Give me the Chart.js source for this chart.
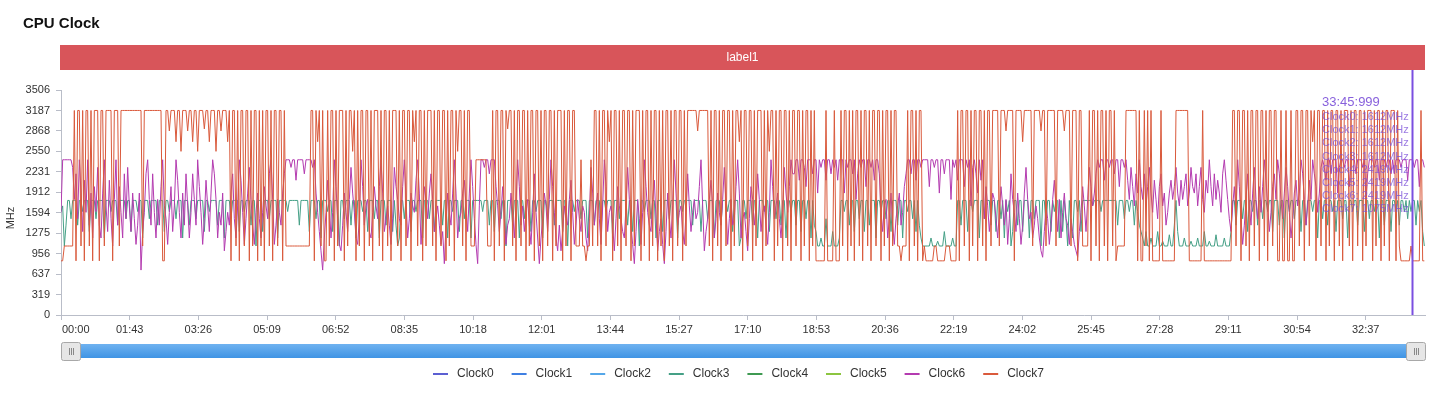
<!DOCTYPE html>
<html>
<head>
<meta charset="utf-8">
<title>CPU Clock</title>
<script src="https://cdn.jsdelivr.net/npm/chart.js@4.4.1/dist/chart.umd.min.js"></script>
<style>
  html, body { margin: 0; padding: 0; background: #fff; }
  #wrap { width: 1440px; height: 394px; }
</style>
</head>
<body>
<div id="wrap"><canvas id="cpuChart" width="1440" height="394"></canvas></div>
<script>
const FONT = "'Liberation Sans', 'Helvetica Neue', Arial, sans-serif"

const seriesNames = ['Clock0', 'Clock1', 'Clock2', 'Clock3', 'Clock4', 'Clock5', 'Clock6', 'Clock7']
const seriesColors = ['#5b5fd2', '#3f7fe2', '#55a7e9', '#45a086', '#3f9a52', '#8cc540', '#b43bb0', '#da5a3c']
// Clock0-2 run exactly under Clock3 and Clock4-5 under Clock6, so they never show
const seriesCovered = [true, true, true, false, true, true, false, false]

const yTickValues = [0, 319, 637, 956, 1275, 1594, 1912, 2231, 2550, 2868, 3187, 3506]
const xTickLabels = ['00:00', '01:43', '03:26', '05:09', '06:52', '08:35', '10:18', '12:01', '13:44', '15:27',
  '17:10', '18:53', '20:36', '22:19', '24:02', '25:45', '27:28', '29:11', '30:54', '32:37']
const xMaxSeconds = 2046
const sampleStep = 2.5 // seconds between samples, one row = 100 s

// little cluster (Clock0..Clock3), MHz
const littleCluster = [
  1612, 1700, 1075, 1400, 1785, 1785, 1500, 1785, 1785, 1785, 1400, 1785, 1785, 1612, 1785, 1785, 1785, 1300, 1785, 1785, 1785, 1500, 1785, 1785, 1785, 1785, 1200, 1785, 1785, 1785, 1612, 1785, 1785, 1785, 1400, 1785, 1785, 1785, 1785, 1500,
  1785, 1785, 1300, 1785, 1785, 1785, 1612, 1785, 1785, 1200, 1785, 1785, 1785, 1500, 1785, 1785, 1785, 1785, 1400, 1785, 1785, 1785, 1300, 1785, 1785, 1612, 1785, 1785, 1785, 1500, 1785, 1785, 1785, 1200, 1785, 1785, 1785, 1400, 1785, 1785,
  1785, 1500, 1785, 1785, 1785, 1785, 1300, 1785, 1785, 1612, 1785, 1785, 1785, 1785, 1400, 1785, 1785, 1785, 1200, 1785, 1785, 1785, 1500, 1785, 1785, 1785, 1785, 1300, 1785, 1785, 1612, 1785, 1785, 1785, 1400, 1785, 1785, 1075, 1785, 1785,
  1785, 1300, 1785, 1785, 1785, 1500, 1785, 1785, 1785, 1785, 1200, 1785, 1785, 1785, 1785, 1785, 1612, 1785, 1785, 1785, 1785, 1785, 1785, 1400, 1785, 1785, 1785, 1785, 1785, 1300, 1785, 1785, 1785, 1500, 1785, 1785, 1200, 1785, 1785, 1785,
  1612, 1785, 1785, 1300, 1785, 1785, 1785, 1075, 1785, 1785, 1500, 1785, 1785, 1785, 1400, 1785, 1785, 1200, 1785, 1785, 1785, 1612, 1785, 1785, 1300, 1785, 1785, 1785, 1500, 1785, 1785, 1200, 1785, 1785, 1785, 1400, 1785, 1785, 1785, 1300,
  1785, 1400, 1075, 1200, 1785, 1785, 1500, 1785, 1785, 1785, 1300, 1785, 1785, 1612, 1785, 1785, 1785, 1200, 1785, 1785, 1785, 1500, 1785, 1785, 1300, 1785, 1785, 1785, 1785, 1400, 1785, 1785, 1200, 1785, 1785, 1612, 1785, 1785, 1785, 1300,
  1785, 1785, 1500, 1785, 1785, 1785, 1200, 1785, 1785, 1785, 1785, 1785, 1785, 1612, 1785, 1785, 1785, 1400, 1785, 1785, 1300, 1785, 1785, 1785, 1500, 1785, 1785, 1075, 1785, 1785, 1785, 1400, 1785, 1785, 1785, 1200, 1785, 1785, 1500, 1785,
  1785, 1785, 1300, 1785, 1785, 1612, 1785, 1785, 1785, 1200, 1785, 1785, 1500, 1785, 1785, 1785, 1400, 1785, 1785, 1785, 1785, 1300, 1785, 1785, 1075, 1785, 1785, 1785, 1612, 1785, 1785, 1785, 1500, 1785, 1785, 1785, 1200, 1785, 1785, 1785,
  1400, 1785, 1785, 1785, 1300, 1785, 1785, 1612, 1785, 1785, 1785, 1200, 1785, 1785, 1785, 1500, 1785, 1785, 1785, 1785, 1400, 1785, 1785, 1300, 1785, 1785, 1785, 1075, 1785, 1785, 1612, 1785, 1785, 1785, 1500, 1785, 1785, 1200, 1785, 1785,
  1785, 1300, 1785, 1785, 1785, 1500, 1785, 1785, 1785, 1785, 1200, 1785, 1785, 1612, 1785, 1785, 1785, 1785, 1785, 1400, 1785, 1785, 1785, 1785, 1300, 1785, 1785, 1785, 1500, 1785, 1785, 1785, 1200, 1785, 1785, 1785, 1400, 1785, 1785, 1785,
  1612, 1785, 1785, 1300, 1785, 1785, 1785, 1075, 1200, 1785, 1785, 1500, 1785, 1785, 1785, 1400, 1785, 1785, 1200, 1785, 1785, 1785, 1612, 1785, 1785, 1300, 1785, 1785, 1785, 1500, 1785, 1785, 1400, 1785, 1785, 1200, 1785, 1785, 1612, 1785,
  1785, 1400, 1785, 1785, 1300, 1785, 1785, 1500, 1785, 1785, 1200, 1785, 1400, 1300, 1075, 1075, 1200, 1075, 1075, 1500, 1075, 1075, 1075, 1300, 1075, 1075, 1075, 1200, 1785, 1785, 1612, 1785, 1785, 1400, 1785, 1785, 1300, 1785, 1785, 1500,
  1785, 1785, 1300, 1785, 1785, 1400, 1785, 1785, 1785, 1200, 1785, 1785, 1612, 1785, 1785, 1500, 1785, 1785, 1300, 1785, 1785, 1785, 1400, 1785, 1785, 1200, 1785, 1785, 1612, 1785, 1785, 1500, 1785, 1300, 1785, 1400, 1200, 1075, 1075, 1075,
  1075, 1075, 1200, 1075, 1075, 1075, 1150, 1075, 1075, 1075, 1300, 1075, 1075, 1075, 1075, 1200, 1075, 1075, 1785, 1785, 1400, 1785, 1785, 1785, 1300, 1785, 1785, 1612, 1785, 1785, 1785, 1200, 1785, 1785, 1500, 1785, 1785, 1785, 1400, 1785,
  1785, 1300, 1785, 1785, 1500, 1785, 1200, 1785, 1612, 1785, 1075, 1300, 1785, 1785, 1400, 1785, 1785, 1300, 1785, 1785, 1785, 1200, 1785, 1785, 1500, 1785, 1785, 1785, 1075, 1785, 1785, 1400, 1785, 1785, 1300, 1785, 1612, 1785, 1785, 1200,
  1785, 1300, 1785, 1500, 1075, 1785, 1400, 1200, 1785, 1785, 1612, 1785, 1300, 1785, 1785, 1785, 1785, 1785, 1785, 1700, 1785, 1785, 1785, 1785, 1612, 1785, 1785, 1785, 1785, 1785, 1785, 1785, 1785, 1785, 1400, 1785, 1785, 1785, 1500, 1785,
  1785, 1612, 1785, 1785, 1400, 1785, 1612, 1400, 1300, 1200, 1075, 1300, 1075, 1075, 1200, 1075, 1075, 1075, 1300, 1075, 1075, 1150, 1075, 1075, 1075, 1250, 1075, 1075, 1400, 1785, 1300, 1075, 1075, 1075, 1200, 1075, 1075, 1075, 1150, 1075,
  1075, 1075, 1200, 1075, 1075, 1075, 1300, 1075, 1075, 1150, 1075, 1075, 1075, 1250, 1075, 1075, 1075, 1075, 1200, 1075, 1075, 1075, 1300, 1785, 1785, 1400, 1785, 1785, 1785, 1500, 1785, 1785, 1300, 1785, 1785, 1612, 1785, 1785, 1400, 1785,
  1785, 1500, 1785, 1785, 1612, 1785, 1785, 1300, 1785, 1785, 1785, 1400, 1785, 1785, 1200, 1785, 1785, 1612, 1785, 1785, 1500, 1785, 1785, 1785, 1300, 1785, 1785, 1400, 1785, 1785, 1785, 1612, 1785, 1785, 1200, 1785, 1785, 1500, 1785, 1785,
  1400, 1785, 1785, 1612, 1785, 1300, 1785, 1785, 1785, 1500, 1785, 1785, 1200, 1785, 1785, 1612, 1785, 1785, 1400, 1785, 1785, 1785, 1300, 1785, 1785, 1500, 1785, 1785, 1612, 1785, 1785, 1200, 1785, 1785, 1400, 1785, 1785, 1785, 1300, 1785,
  1785, 1612, 1785, 1400, 1785, 1785, 1612, 1785, 1500, 1785, 1612, 1785, 1785, 1400, 1785, 1612, 1785, 1300, 1075
]

// big cluster (Clock4..Clock6), MHz
const bigCluster = [
  1600, 2419, 2419, 2419, 2419, 2419, 2419, 2300, 1800, 2200, 1500, 2419, 1900, 1300, 2100, 1600, 2419, 1400, 1900, 1200, 2000, 1612, 2300, 1400, 1200, 1900, 2419, 1700, 1300, 2100, 1500, 1075, 1800, 2419, 1400, 2000, 1600, 1200, 2200, 1500,
  2300, 1700, 1300, 1900, 1500, 1100, 1400, 1900, 700, 1300, 1600, 2200, 2419, 1800, 1400, 2200, 1600, 1200, 1800, 1400, 2000, 2419, 1700, 1500, 1100, 1600, 2000, 1300, 1700, 2419, 2100, 1600, 1200, 1900, 1400, 2200, 1700, 1200, 1600, 2200,
  1800, 1400, 2419, 2000, 1600, 1100, 1500, 2100, 1700, 1300, 1900, 2419, 2200, 1800, 1200, 1600, 1400, 1900, 1000, 1300, 1600, 1400, 1900, 2200, 1500, 1200, 1700, 2419, 2100, 1600, 1100, 1500, 1900, 2300, 1800, 1400, 1100, 1600, 1900, 1500,
  1200, 1600, 2000, 1700, 1500, 2200, 2419, 1800, 1100, 1400, 1800, 1600, 1400, 1900, 2200, 2419, 2419, 2419, 2300, 2419, 2419, 2100, 2419, 2419, 2419, 2419, 2200, 2419, 2419, 2419, 2419, 2300, 2419, 1900, 1600, 1300, 1000, 700, 1200, 1600,
  2100, 1700, 1200, 1600, 2419, 2000, 1500, 1100, 1000, 1400, 1900, 1600, 1300, 1800, 2300, 1900, 1600, 1200, 1100, 1500, 2419, 2000, 1400, 1700, 1800, 1300, 1200, 1600, 2000, 1700, 1500, 2000, 2419, 1900, 1300, 1500, 1700, 1400, 1100, 1500,
  2300, 2000, 1800, 1500, 1400, 2000, 2419, 1800, 1200, 1500, 1900, 1700, 1600, 2100, 2419, 1900, 1100, 1500, 2000, 1800, 1500, 1900, 2200, 1800, 1300, 1500, 1700, 1400, 1100, 1300, 800, 1400, 1900, 1600, 1400, 1900, 2419, 1900, 1200, 1500,
  1600, 1900, 2100, 1700, 1300, 1900, 2419, 2000, 1500, 1100, 800, 1700, 2419, 2419, 2300, 2419, 2419, 2200, 2419, 2419, 2419, 2000, 1700, 1300, 1600, 2000, 1500, 1100, 1400, 1500, 1900, 1600, 1200, 1700, 2419, 2000, 1400, 1700, 1300, 1600,
  1800, 1400, 1100, 1600, 2200, 1600, 1200, 800, 1200, 1500, 1900, 1700, 1300, 1800, 2419, 2000, 1600, 1200, 1000, 1400, 1000, 1300, 1700, 1500, 1400, 1800, 2100, 1600, 1100, 1400, 1800, 1500, 1300, 1700, 1600, 1200, 1000, 1500, 2300, 1900,
  1400, 1700, 1900, 1500, 1100, 1700, 2419, 2000, 1300, 1600, 1700, 1400, 1000, 1500, 2000, 1700, 1500, 1300, 1200, 1700, 2300, 1800, 1400, 1100, 800, 1300, 1800, 1500, 1100, 1600, 2419, 2000, 1600, 1400, 1300, 1800, 2100, 1500, 1000, 1300,
  1500, 1100, 800, 1300, 1900, 1500, 1200, 1700, 2419, 1900, 1400, 1600, 1700, 1300, 1100, 1600, 2200, 1700, 1300, 1600, 1800, 1500, 1600, 2000, 2419, 1700, 1000, 1300, 1500, 1800, 2100, 1700, 1200, 1500, 1900, 1600, 1400, 1800, 2300, 1700,
  1100, 1500, 1800, 1400, 1500, 2000, 2419, 1900, 1200, 1500, 1600, 1300, 1000, 1500, 2000, 1800, 1400, 1700, 2200, 1800, 1300, 1600, 1700, 1400, 1100, 1600, 2419, 2000, 1500, 1700, 1900, 1500, 1200, 1600, 2300, 1900, 1600, 2000, 2419, 2200,
  2200, 2419, 2419, 2100, 2419, 2419, 2300, 2000, 2419, 2419, 2419, 2200, 2419, 2419, 1900, 2419, 2300, 2419, 2419, 2100, 2419, 2419, 2200, 2419, 2300, 2419, 2100, 2419, 2419, 2419, 1900, 2419, 2300, 2419, 2419, 2200, 2419, 1800, 2200, 2419,
  2300, 2419, 2419, 2000, 2419, 2419, 2300, 2419, 2100, 2419, 2419, 2200, 1600, 1300, 1700, 1800, 1200, 1500, 1900, 1400, 1100, 1500, 1700, 1900, 1400, 1600, 2000, 2200, 2419, 2419, 2200, 2419, 2419, 2100, 2419, 2419, 2300, 2419, 2419, 2419,
  2419, 2000, 2419, 2419, 2300, 2419, 2419, 1900, 2419, 2419, 2200, 2419, 2419, 2419, 1800, 2419, 2300, 2419, 2100, 2419, 2419, 2419, 2000, 2419, 2300, 2419, 1700, 2300, 2419, 2200, 1900, 2419, 2100, 2419, 1500, 2000, 1700, 1300, 1600, 1900,
  1800, 1500, 1200, 1600, 2000, 1700, 1400, 1800, 1100, 1500, 2200, 1800, 1600, 1300, 1900, 1500, 1100, 1400, 1900, 2300, 1800, 1500, 1600, 1200, 1400, 1700, 1500, 1200, 1000, 900, 1300, 1700, 1500, 1100, 1400, 1800, 2100, 1700, 1300, 1800,
  1200, 1600, 1900, 1500, 1400, 1100, 1500, 1300, 1100, 1000, 900, 1300, 1600, 2000, 1700, 1300, 1800, 2300, 2000, 1700, 1900, 2200, 2419, 2300, 2419, 2419, 2100, 2419, 2419, 2300, 2419, 2419, 2200, 2419, 2419, 2000, 2419, 2419, 2300, 2419,
  2100, 1800, 2300, 2000, 1700, 2200, 1900, 2419, 2000, 1800, 2200, 1700, 2000, 2300, 1900, 1600, 2100, 1800, 1500, 2000, 2200, 1700, 1900, 1400, 1600, 1900, 2100, 1800, 2000, 2300, 1900, 1700, 2100, 1800, 2000, 2200, 1700, 1900, 2300, 2000,
  1900, 2200, 1700, 2000, 2300, 1800, 1600, 2100, 1900, 2419, 2000, 1700, 2200, 1800, 2100, 1900, 1600, 2200, 2419, 2100, 1800, 1500, 1300, 1700, 2000, 1600, 2419, 2000, 1500, 1100, 1400, 1800, 2200, 1700, 1400, 1900, 2300, 1800, 1500, 2000,
  1600, 2000, 2419, 2100, 1700, 1300, 1600, 2000, 2200, 1800, 2419, 2200, 1800, 1500, 1900, 2300, 2000, 1600, 1200, 1500, 1900, 2100, 1700, 1900, 2419, 2200, 1800, 1400, 1700, 2100, 1800, 2419, 2200, 2000, 1600, 1900, 2300, 2419, 2300, 2100,
  2419, 2419, 2200, 2419, 2419, 2419, 1900, 2300, 2419, 2419, 2300, 2419, 2419, 2000, 2419, 2419, 2419, 2200, 2419, 2419, 2419, 2300, 2419, 1800, 2200, 2419, 2419, 2419, 2300, 2419, 2419, 2100, 2419, 2419, 2419, 2300, 2419, 2419, 2200, 2419,
  2200, 2419, 2419, 2419, 2300, 2419, 2419, 2419, 2100, 2419, 2419, 2419, 2300, 2419, 2419, 2000, 2419, 2419, 2300
]

// prime core (Clock7), MHz
const primeCore = [
  844, 844, 1075, 1075, 1075, 1075, 1075, 1075, 3187, 844, 3187, 3187, 1075, 3187, 844, 3187, 3187, 1075, 3187, 844, 3187, 3187, 3187, 844, 3187, 3187, 1075, 3187, 3187, 3187, 3187, 844, 3187, 3187, 3187, 1075, 3187, 3187, 3187, 3187,
  3187, 3187, 3187, 3187, 3187, 3187, 3187, 3187, 3187, 1075, 3187, 3187, 3187, 3187, 3187, 3187, 3187, 3187, 3187, 3187, 3187, 844, 844, 3187, 3187, 2868, 3187, 3187, 3187, 2700, 3187, 3187, 2550, 3187, 3187, 3187, 2868, 3187, 3187, 2700,
  3187, 3187, 2550, 3187, 3187, 3187, 2900, 3187, 3187, 2700, 3187, 3187, 3187, 2550, 3187, 3187, 2868, 3187, 3187, 3187, 2700, 3187, 844, 3187, 3187, 1075, 3187, 844, 3187, 3187, 1075, 3187, 3187, 844, 3187, 1075, 3187, 3187, 844, 3187,
  1075, 3187, 844, 3187, 3187, 1075, 3187, 844, 3187, 3187, 1075, 3187, 3187, 844, 3187, 1075, 1075, 1075, 1075, 1075, 1075, 1075, 1075, 1075, 1075, 1075, 1075, 1075, 1075, 1075, 3187, 3187, 844, 3187, 2700, 3187, 1075, 3187, 844, 844,
  3187, 1075, 3187, 3187, 844, 3187, 1075, 3187, 3187, 3187, 844, 3187, 1075, 3187, 3187, 2550, 3187, 844, 3187, 1075, 3187, 3187, 844, 3187, 3187, 1075, 3187, 844, 3187, 3187, 3187, 1075, 3187, 844, 3187, 3187, 1075, 3187, 844, 3187,
  3187, 3187, 1075, 3187, 844, 3187, 3187, 1075, 3187, 3187, 844, 3187, 2700, 3187, 1075, 3187, 3187, 844, 3187, 1075, 3187, 3187, 3187, 1075, 3187, 844, 3187, 3187, 1075, 3187, 3187, 844, 3187, 1075, 3187, 3187, 844, 3187, 2550, 3187,
  3187, 1075, 3187, 844, 3187, 3187, 1075, 1075, 1075, 2419, 2419, 2419, 2419, 2419, 2419, 2419, 1075, 1075, 1075, 3187, 844, 3187, 3187, 1075, 3187, 3187, 844, 3187, 2900, 3187, 3187, 1075, 3187, 844, 3187, 3187, 1075, 3187, 3187, 844,
  3187, 1075, 3187, 3187, 844, 3187, 3187, 1075, 3187, 844, 3187, 3187, 1075, 3187, 3187, 844, 3187, 1075, 3187, 3187, 3187, 844, 3187, 1075, 3187, 3187, 844, 3187, 3187, 1075, 1075, 1075, 2419, 1075, 1075, 844, 1075, 1075, 2419, 1075,
  3187, 3187, 1075, 3187, 844, 3187, 3187, 1075, 3187, 2700, 3187, 844, 3187, 3187, 1075, 3187, 844, 3187, 3187, 1075, 3187, 3187, 844, 3187, 1075, 3187, 3187, 3187, 844, 3187, 1075, 3187, 3187, 844, 3187, 1075, 3187, 3187, 844, 3187,
  1075, 3187, 844, 3187, 3187, 1075, 3187, 844, 3187, 3187, 1075, 3187, 3187, 844, 3187, 1075, 3187, 3187, 3187, 3187, 3187, 3187, 2868, 3187, 3187, 3187, 3187, 3187, 3187, 1075, 3187, 844, 3187, 3187, 1075, 3187, 844, 3187, 3187, 1075,
  3187, 3187, 844, 3187, 1075, 3187, 3187, 2700, 3187, 844, 3187, 3187, 1075, 3187, 3187, 844, 3187, 1075, 3187, 3187, 3187, 844, 3187, 1075, 3187, 2550, 3187, 3187, 844, 3187, 1075, 3187, 3187, 844, 3187, 3187, 1075, 3187, 844, 3187,
  3187, 1075, 3187, 3187, 844, 3187, 1075, 3187, 3187, 844, 3187, 1075, 3187, 844, 844, 844, 844, 844, 844, 3187, 844, 844, 844, 844, 3187, 844, 844, 844, 3187, 1075, 3187, 3187, 844, 3187, 1075, 3187, 844, 3187, 3187, 1075,
  3187, 844, 3187, 3187, 1075, 3187, 844, 3187, 3187, 1075, 3187, 3187, 844, 3187, 1075, 3187, 3187, 844, 3187, 1075, 3187, 3187, 1075, 1075, 844, 1075, 1075, 1075, 3187, 844, 3187, 3187, 1075, 3187, 844, 3187, 3187, 844, 1075, 844,
  844, 844, 844, 844, 1075, 1075, 844, 844, 844, 844, 844, 1075, 1075, 1075, 844, 844, 844, 844, 3187, 844, 3187, 3187, 1075, 3187, 3187, 844, 3187, 1075, 3187, 3187, 844, 3187, 3187, 1075, 3187, 844, 3187, 3187, 1075, 3187,
  3187, 3187, 3187, 1075, 3187, 3187, 3187, 2868, 3187, 3187, 3187, 3187, 844, 3187, 3187, 3187, 3187, 2700, 3187, 3187, 3187, 3187, 3187, 1075, 3187, 3187, 3187, 3187, 2868, 3187, 3187, 1075, 3187, 3187, 3187, 3187, 3187, 1075, 3187, 3187,
  3187, 3187, 2868, 3187, 3187, 3187, 1075, 3187, 3187, 3187, 844, 3187, 3187, 1075, 1075, 1075, 1075, 3187, 844, 3187, 3187, 1075, 3187, 844, 3187, 3187, 1075, 3187, 844, 3187, 3187, 1075, 3187, 844, 1075, 1075, 1075, 1075, 1075, 3187,
  3187, 3187, 3187, 3187, 3187, 3187, 844, 3187, 844, 844, 3187, 1075, 3187, 844, 3187, 844, 844, 844, 844, 844, 3187, 844, 844, 844, 844, 844, 844, 844, 844, 3187, 3187, 3187, 3187, 3187, 3187, 3187, 3187, 844, 844, 844,
  844, 844, 844, 844, 844, 3187, 844, 844, 844, 844, 844, 844, 844, 844, 844, 844, 844, 844, 844, 844, 844, 844, 844, 3187, 3187, 1075, 3187, 3187, 844, 3187, 3187, 1075, 3187, 844, 3187, 3187, 1075, 3187, 3187, 844,
  3187, 3187, 1075, 3187, 844, 3187, 3187, 1075, 3187, 3187, 844, 844, 3187, 844, 844, 3187, 844, 844, 3187, 844, 844, 3187, 3187, 1075, 3187, 3187, 844, 3187, 3187, 1075, 3187, 2700, 3187, 844, 3187, 3187, 1075, 3187, 3187, 844,
  3187, 1075, 3187, 3187, 844, 3187, 3187, 1075, 3187, 844, 3187, 3187, 3187, 1075, 3187, 844, 3187, 3187, 1075, 3187, 3187, 844, 3187, 1075, 3187, 3187, 3187, 844, 3187, 1075, 3187, 3187, 844, 3187, 1075, 3187, 3187, 844, 3187, 3187,
  3187, 844, 3187, 1075, 844, 844, 844, 844, 844, 844, 1075, 844, 844, 844, 844, 844, 3187, 844, 844
]

const clusterOf = [littleCluster, littleCluster, littleCluster, littleCluster, bigCluster, bigCluster, bigCluster, primeCore]

const cursorLabel = '33:45:999'
const cursorSeconds = 2026

const toSeconds = s => {
  const [m, sec] = s.split(':').map(Number)
  return m * 60 + sec
}

function buildDatasets() {
  return seriesNames.map((name, i) => ({
    label: name,
    data: clusterOf[i].map((v, k) => ({ x: k * sampleStep, y: v })),
    borderColor: seriesColors[i],
    borderWidth: 1,
    pointRadius: 0,
    fill: false,
    tension: 0,
    hidden: seriesCovered[i],
    order: seriesNames.length - 1 - i
  }))
}

const decorations = {
  id: 'decorations',
  beforeDraw(chart) {
    const { ctx } = chart
    ctx.save()
    ctx.fillStyle = '#fff'
    ctx.fillRect(0, 0, chart.width, chart.height)
    ctx.restore()
  },
  afterDraw(chart) {
    const { ctx, chartArea } = chart
    const xs = chart.scales.x
    ctx.save()

    // title
    ctx.fillStyle = '#111'
    ctx.font = 'bold 15px ' + FONT
    ctx.textAlign = 'left'
    ctx.textBaseline = 'alphabetic'
    ctx.fillText('CPU Clock', 23, 28)

    // label band
    ctx.fillStyle = '#d8555a'
    ctx.fillRect(60, 45, chartArea.right - 60, 25)
    ctx.fillStyle = '#fff'
    ctx.font = '12px ' + FONT
    ctx.textAlign = 'center'
    ctx.textBaseline = 'middle'
    ctx.fillText('label1', (60 + chartArea.right) / 2, 58)

    // y axis name
    ctx.save()
    ctx.translate(11, 218)
    ctx.rotate(-Math.PI / 2)
    ctx.fillStyle = '#333'
    ctx.font = '11px ' + FONT
    ctx.fillText('MHz', 0, 0)
    ctx.restore()

    // x tick labels
    ctx.fillStyle = '#333'
    ctx.font = '11px ' + FONT
    ctx.textBaseline = 'top'
    xTickLabels.forEach((lab, i) => {
      const px = xs.getPixelForValue(toSeconds(lab))
      ctx.textAlign = i === 0 ? 'left' : 'center'
      ctx.fillText(lab, i === 0 ? px + 1 : px, 324)
    })

    // data zoom slider
    const sx0 = chartArea.left, sx1 = chartArea.right
    const grad = ctx.createLinearGradient(0, 344, 0, 358)
    grad.addColorStop(0, '#6fb2f0')
    grad.addColorStop(1, '#3f94e4')
    ctx.fillStyle = grad
    ctx.fillRect(sx0, 344, sx1 - sx0, 14)
    ;[sx0, sx1 - 19].forEach(hx => {
      ctx.fillStyle = '#e6e6e6'
      ctx.strokeStyle = '#a8a8a8'
      ctx.lineWidth = 1
      ctx.beginPath()
      ctx.roundRect(hx + 0.5, 342.5, 19, 18, 2)
      ctx.fill()
      ctx.stroke()
      ctx.strokeStyle = '#888'
      for (let k = -2; k <= 2; k += 2) {
        ctx.beginPath()
        ctx.moveTo(hx + 10 + k + 0.5, 348)
        ctx.lineTo(hx + 10 + k + 0.5, 355)
        ctx.stroke()
      }
    })

    // legend
    ctx.font = '12px ' + FONT
    ctx.textAlign = 'left'
    ctx.textBaseline = 'middle'
    seriesNames.forEach((name, i) => {
      const lx = 433 + i * 78.6
      ctx.strokeStyle = seriesColors[i]
      ctx.lineWidth = 2
      ctx.beginPath()
      ctx.moveTo(lx, 374)
      ctx.lineTo(lx + 15, 374)
      ctx.stroke()
      ctx.fillStyle = '#333'
      ctx.fillText(name, lx + 24, 374)
    })

    // cursor line + tooltip
    const cx = Math.round(xs.getPixelForValue(cursorSeconds)) + 0.5
    ctx.strokeStyle = '#7a4fe0'
    ctx.lineWidth = 2
    ctx.beginPath()
    ctx.moveTo(cx, 70)
    ctx.lineTo(cx, chartArea.bottom)
    ctx.stroke()

    const idx = Math.floor(cursorSeconds / sampleStep)
    ctx.fillStyle = 'rgba(122, 79, 216, 0.9)'
    ctx.textAlign = 'left'
    ctx.font = '13px ' + FONT
    ctx.fillText(cursorLabel, 1322, 102)
    ctx.font = '11px ' + FONT
    ctx.fillStyle = 'rgba(122, 79, 216, 0.75)'
    seriesNames.forEach((name, i) => {
      ctx.fillText(name + ': ' + clusterOf[i][idx] + 'MHz', 1322, 117 + i * 13.2)
    })

    ctx.restore()
  }
}

const ctx = document.getElementById('cpuChart').getContext('2d')
new Chart(ctx, {
  type: 'line',
  data: { datasets: buildDatasets() },
  options: {
    responsive: false,
    animation: false,
    devicePixelRatio: 1,
    parsing: false,
    normalized: true,
    events: [],
    layout: { padding: { top: 90, right: 15, bottom: 0, left: 0 } },
    plugins: { legend: { display: false }, tooltip: { enabled: false }, title: { display: false } },
    scales: {
      x: {
        type: 'linear',
        min: 0,
        max: xMaxSeconds,
        afterBuildTicks: scale => { scale.ticks = xTickLabels.map(l => ({ value: toSeconds(l) })) },
        afterFit: scale => { scale.height = 79 },
        ticks: { display: false },
        grid: { display: true, drawOnChartArea: false, drawTicks: true, tickLength: 5, color: '#b9bdc8' },
        border: { display: true, color: '#b9bdc8' }
      },
      y: {
        min: 0,
        max: 3506,
        afterBuildTicks: scale => { scale.ticks = yTickValues.map(v => ({ value: v })) },
        afterFit: scale => { scale.width = 61 },
        ticks: { color: '#333', padding: 6, font: { size: 11, family: FONT }, callback: v => String(v) },
        grid: { display: true, drawOnChartArea: false, drawTicks: true, tickLength: 5, color: '#b9bdc8' },
        border: { display: true, color: '#b9bdc8' }
      }
    }
  },
  plugins: [decorations]
})
</script>
</body>
</html>
